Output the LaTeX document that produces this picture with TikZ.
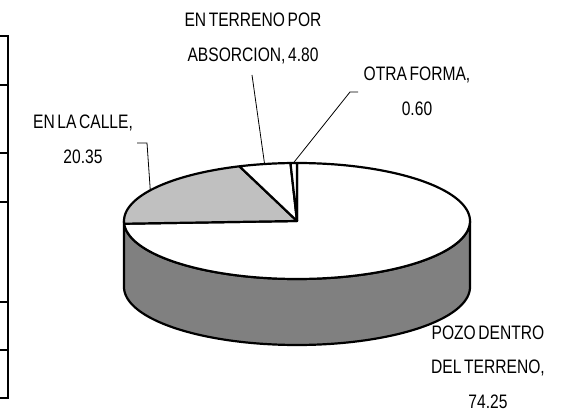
\documentclass[tikz,border=0pt]{standalone}
\usepackage{fontspec}
\setmainfont{Liberation Sans}[FakeStretch=0.8, WordSpace=0.6]
\begin{document}
\begin{tikzpicture}[x=1pt,y=-1pt,
  outl/.style={line width=2.2pt, line join=round},
  lead/.style={line width=0.8pt},
  lbl/.style={font=\fontsize{19.5}{34.5}\selectfont, align=center, inner sep=0pt},
  tbl/.style={line width=2.2pt}]
\definecolor{sidegray}{HTML}{808080}
\definecolor{slicegray}{HTML}{C0C0C0}
\useasboundingbox (0,0) rectangle (570,414);
\def\Cx{297}\def\Cy{221}\def\Rx{173}\def\Ry{58}\def\Dz{66}
% clipped table edge at the left
\draw[tbl] (0,36) -- (8,36) -- (8,398) -- (0,398);
\foreach \yy in {85,153,202,302,350} \draw[tbl] (0,\yy) -- (8,\yy);
% side of the pie
\draw[outl, fill=sidegray]
  plot[domain=180:360, samples=90] ({\Cx+\Rx*cos(\x)},{\Cy-\Ry*sin(\x)})
  -- plot[domain=360:180, samples=90] ({\Cx+\Rx*cos(\x)},{\Cy+\Dz-\Ry*sin(\x)})
  -- cycle;
\coordinate (c) at (\Cx,\Cy);
% top slices
\draw[outl, fill=white] (c) -- plot[domain=-177.3:90, samples=150] ({\Cx+\Rx*cos(\x)},{\Cy-\Ry*sin(\x)}) -- cycle;
\draw[outl, fill=slicegray] (c) -- plot[domain=109.44:182.7, samples=60] ({\Cx+\Rx*cos(\x)},{\Cy-\Ry*sin(\x)}) -- cycle;
\draw[outl, fill=white] (c) -- plot[domain=92.16:109.44, samples=20] ({\Cx+\Rx*cos(\x)},{\Cy-\Ry*sin(\x)}) -- cycle;
\draw[outl, fill=white] (c) -- plot[domain=90:92.16, samples=5] ({\Cx+\Rx*cos(\x)},{\Cy-\Ry*sin(\x)}) -- cycle;
% points on the rim
\coordinate (pcalle) at ({\Cx+\Rx*cos(148)},{\Cy-\Ry*sin(148)});
\coordinate (pabs) at ({\Cx+\Rx*cos(100.8)},{\Cy-\Ry*sin(100.8)});
\coordinate (potra) at ({\Cx+\Rx*cos(91.2)},{\Cy-\Ry*sin(91.2)});
% labels
\node[lbl] (lcalle) at (83,139.5) {EN LA CALLE,\\20.35};
\node[lbl] (labs) at (253,38.5) {EN TERRENO POR\\ABSORCION, 4.80};
\node[lbl] (lotra) at (417,91.5) {OTRA FORMA,\\0.60};
\node[lbl] (lpozo) at (488,367) {POZO DENTRO\\DEL TERRENO,\\74.25};
% leader lines
\coordinate (scalle) at (137,143);
\coordinate (kcalle) at (147,143);
\coordinate (sabs) at (252,75);
\coordinate (sotra) at (358,92);
\coordinate (kotra) at (350,92);
\draw[lead] (scalle) -- (kcalle) -- (pcalle);
\draw[lead] (sabs) -- (pabs);
\draw[lead] (sotra) -- (kotra) -- (potra);
\end{tikzpicture}
\end{document}
